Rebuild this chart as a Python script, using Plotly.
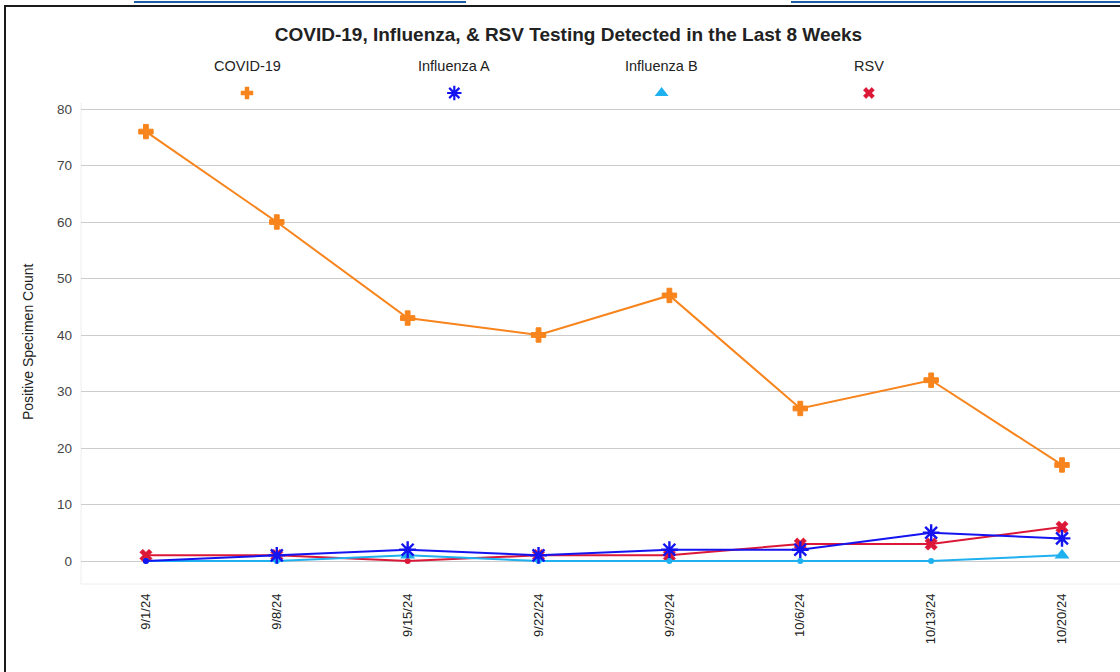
import plotly.graph_objects as go

# ---- data ----
dates = ["9/1/24", "9/8/24", "9/15/24", "9/22/24", "9/29/24", "10/6/24", "10/13/24", "10/20/24"]
covid = [76, 60, 43, 40, 47, 27, 32, 17]
flu_a = [0, 1, 2, 1, 2, 2, 5, 4]
flu_b = [0, 0, 1, 0, 0, 0, 0, 1]
rsv = [1, 1, 0, 1, 1, 3, 3, 6]
series_names = ["COVID-19", "Influenza A", "Influenza B", "RSV"]
y_ticks = [0, 10, 20, 30, 40, 50, 60, 70, 80]

# ---- style ----
W, H = 1120, 672
L, R, T, B = 81, 1120, 40, 584      # plotting region in pixels (extends up to hold legend)
VIS_T = 103                          # visible top of the chart frame
Y0_PX, Y80_PX = 561, 109             # pixel rows of values 0 and 80
per_px = 80 / (Y0_PX - Y80_PX)
y_lo = -(B - Y0_PX) * per_px
y_hi = 80 + (Y80_PX - T) * per_px

FONT = "Liberation Sans, Arial, sans-serif"
colors = {"COVID-19": "#f7841c", "Influenza A": "#1414f0",
          "Influenza B": "#1fb0f0", "RSV": "#dc1838"}
# symbol, data size, data line width, legend size, legend line width
symbols = {"COVID-19": ("cross", 12, 1, 10, 0.5),
           "Influenza A": ("asterisk-open", 14, 2.4, 12, 2.2),
           "Influenza B": ("triangle-up", 13, 0, 12, 0),
           "RSV": ("x", 11, 0.5, 10, 0.3)}


def px(x):
    return (x - L) / (R - L)


def py(y):
    return (B - y) / (B - T)


def marker_for(name, vals):
    sym, size, lw, _, _ = symbols[name]
    c = colors[name]
    return dict(
        symbol=[sym if v != 0 else "circle" for v in vals],
        size=[size if v != 0 else 6 for v in vals],
        color=c, opacity=1,
        line=dict(color=c, width=[lw if v != 0 else 0 for v in vals]),
    )


data = {"COVID-19": covid, "Influenza A": flu_a, "Influenza B": flu_b, "RSV": rsv}

fig = go.Figure()
for name in ["COVID-19", "RSV", "Influenza B", "Influenza A"]:
    vals = data[name]
    fig.add_trace(go.Scatter(
        x=dates, y=vals, mode="lines+markers", name=name,
        line=dict(color=colors[name], width=2),
        marker=marker_for(name, vals), showlegend=False,
    ))

# custom legend (labels above symbols) on a pixel-like overlay axis
leg_x0, leg_step = 247, 207.3
for i, name in enumerate(series_names):
    lx = leg_x0 + i * leg_step
    sym, _, _, lsize, llw = symbols[name]
    fig.add_trace(go.Scatter(
        x=[lx], y=[93], xaxis="x2", yaxis="y2", mode="markers",
        marker=dict(symbol=sym, size=lsize, color=colors[name],
                    line=dict(color=colors[name], width=llw)),
        showlegend=False, hoverinfo="skip",
    ))
    fig.add_annotation(x=px(lx), y=py(66), xref="paper", yref="paper",
                       xanchor="center", yanchor="middle",
                       text=name, showarrow=False,
                       font=dict(family=FONT, size=14.5, color="#222222"))

# y axis title
fig.add_annotation(x=px(28), y=py(342), xref="paper", yref="paper",
                   xanchor="center", yanchor="middle",
                   text="Positive Specimen Count", textangle=-90, showarrow=False,
                   font=dict(family=FONT, size=14, color="#222222"))

shapes = [
    # white legend background covering top gridline
    dict(type="rect", xref="paper", yref="paper", x0=px(143), x1=px(975),
         y0=py(114), y1=py(100), fillcolor="white", line=dict(width=0), layer="between"),
    # faint chart-area left and bottom edges
    dict(type="line", xref="paper", yref="paper", x0=px(81), x1=px(81),
         y0=py(B), y1=py(VIS_T), line=dict(color="#eeeeee", width=1), layer="below"),
    dict(type="line", xref="paper", yref="paper", x0=px(81), x1=px(1120),
         y0=py(B), y1=py(B), line=dict(color="#eeeeee", width=1), layer="below"),
    # outer frame
    dict(type="rect", xref="paper", yref="paper", x0=px(5), x1=px(1135),
         y0=py(700), y1=py(6), fillcolor="rgba(0,0,0,0)",
         line=dict(color="#1a1a1a", width=2), layer="above"),
    # cut-off link underlines at top of page
    dict(type="line", xref="paper", yref="paper", x0=px(134), x1=px(466),
         y0=py(2), y1=py(2), line=dict(color="#1b5ea6", width=2)),
    dict(type="line", xref="paper", yref="paper", x0=px(791), x1=px(1125),
         y0=py(2), y1=py(2), line=dict(color="#1b5ea6", width=2)),
]

fig.update_layout(
    width=W, height=H,
    margin=dict(l=L, r=W - R, t=T, b=H - B, pad=0),
    paper_bgcolor="white", plot_bgcolor="white",
    font=dict(family=FONT, size=13, color="#444444"),
    title=dict(text="<b>COVID-19, Influenza, &amp; RSV Testing Detected in the Last 8 Weeks</b>",
               x=568.5 / W, xref="container", xanchor="center",
               y=1 - 34 / H, yref="container", yanchor="middle",
               font=dict(family=FONT, size=19, color="#222222")),
    xaxis=dict(type="category", range=[-0.496, 7.443], tickangle=-90,
               showgrid=False, zeroline=False, showline=False,
               ticks="", ticklabelstandoff=6,
               tickfont=dict(family=FONT, size=13, color="#222222")),
    yaxis=dict(range=[y_lo, y_hi], tickvals=y_ticks, showgrid=True,
               gridcolor="#cccccc", gridwidth=1, zeroline=False,
               showline=False, ticks="", ticklabelstandoff=8,
               tickfont=dict(family=FONT, size=13.5, color="#444444")),
    xaxis2=dict(range=[L, R], overlaying="x", visible=False, anchor="y2"),
    yaxis2=dict(range=[B, T], overlaying="y", visible=False, anchor="x2"),
    shapes=shapes,
    hovermode=False,
)

fig.write_html("out.html", config={"displayModeBar": False},
               post_script="document.body.style.margin='0';")
